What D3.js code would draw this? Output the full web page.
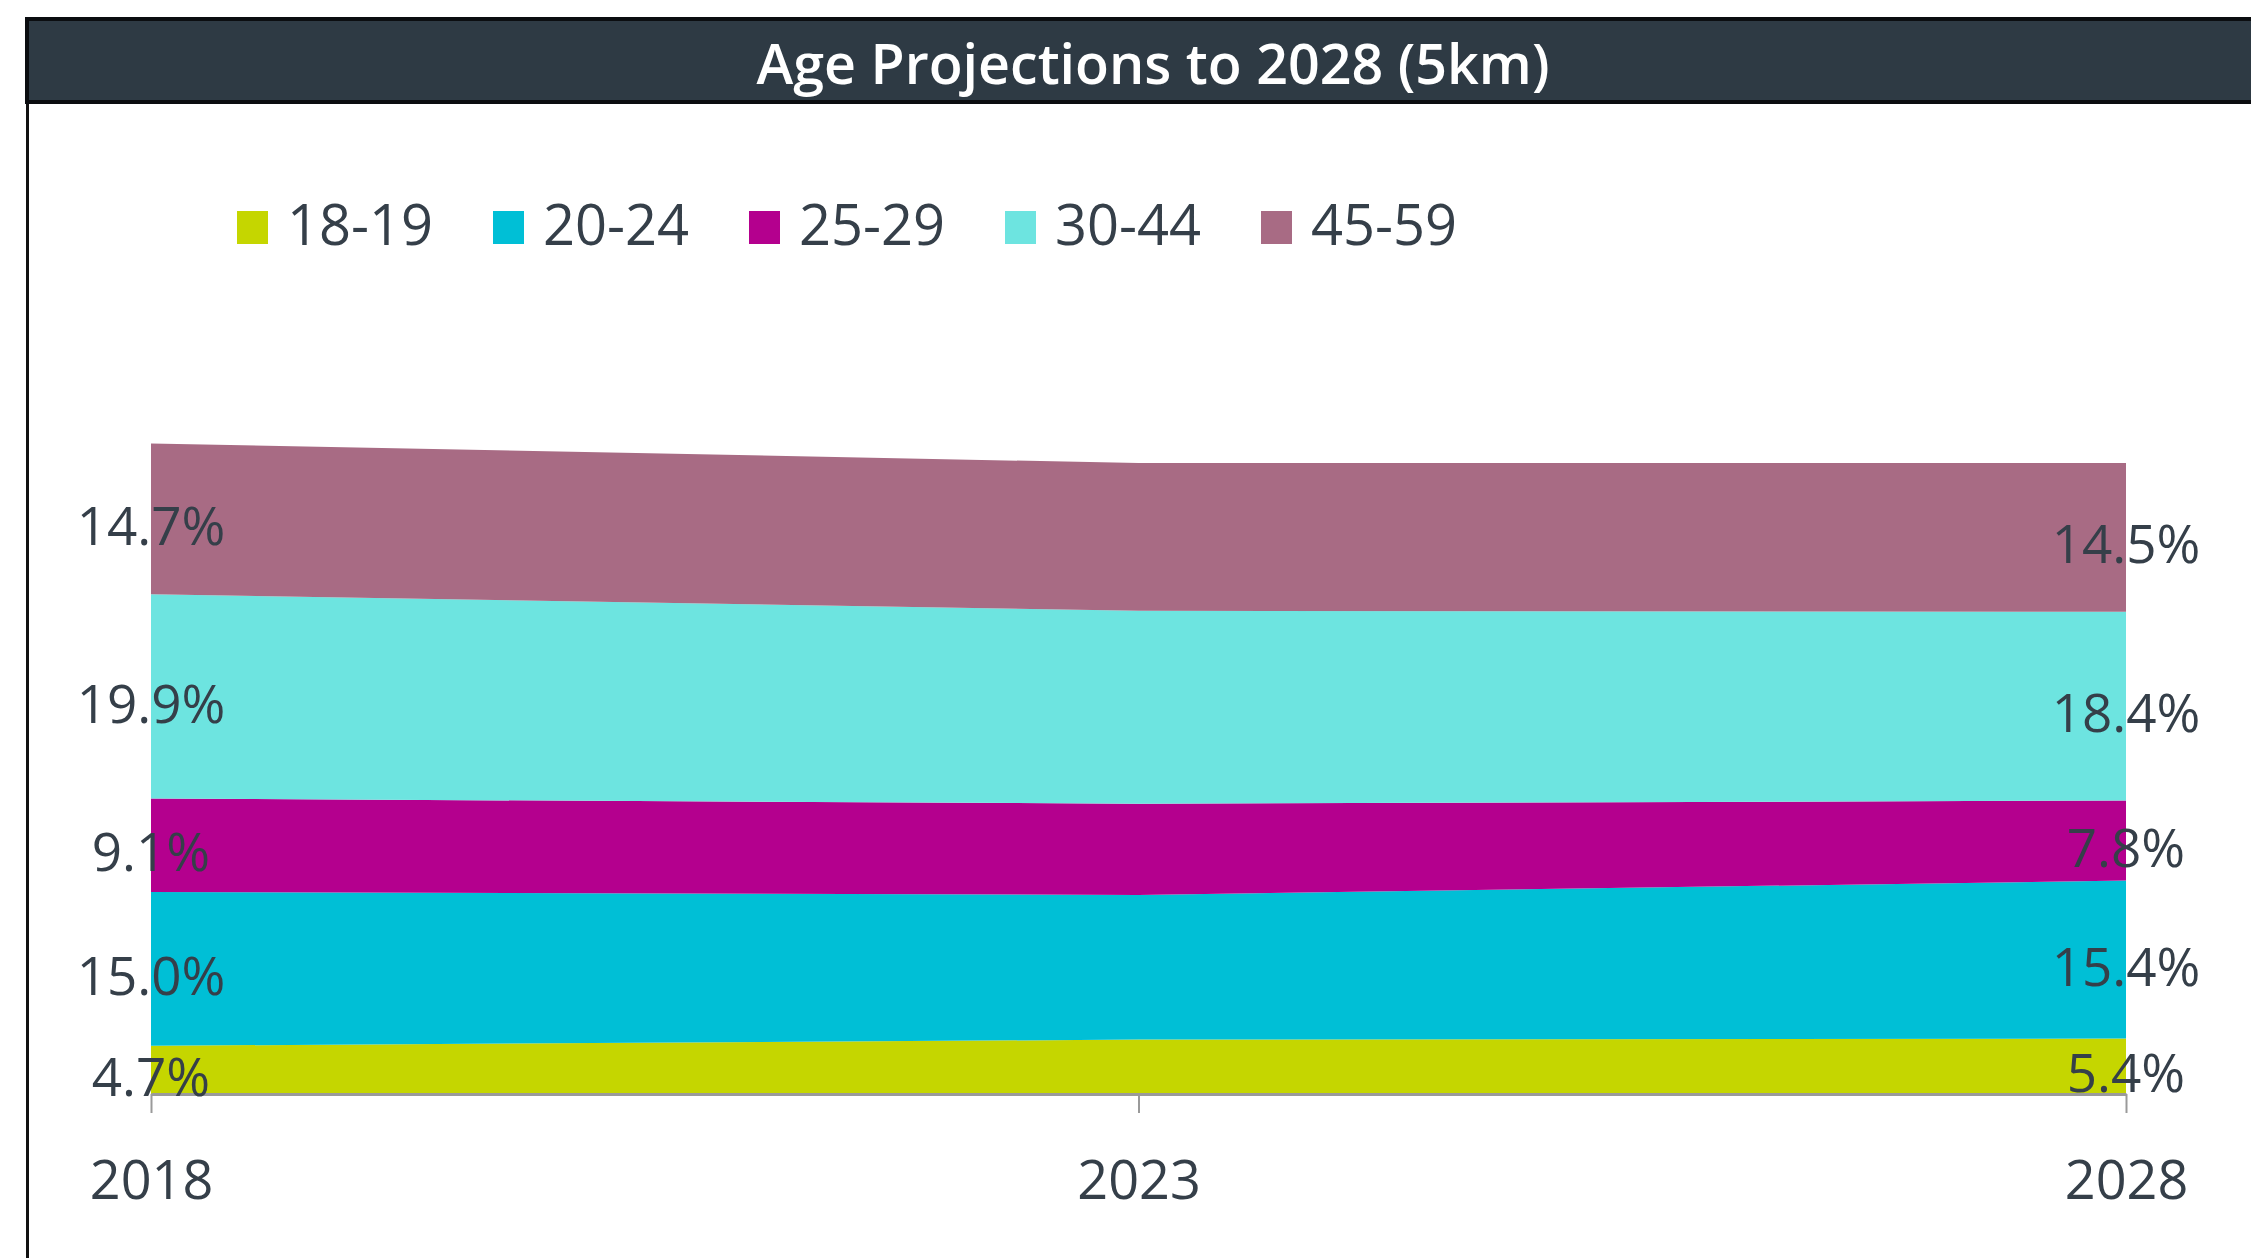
<!DOCTYPE html>
<html>
<head>
<meta charset="utf-8">
<script src="https://cdn.jsdelivr.net/npm/d3@7"></script>
<style>
  html, body { margin: 0; padding: 0; background: #ffffff; }
  svg { display: block; }
</style>
</head>
<body>
<svg id="chart" width="2251" height="1258"></svg>
<script>
// ---- Data ----
const years = ["2018", "2023", "2028"];
const ageGroups = ["18-19", "20-24", "25-29", "30-44", "45-59"];
const s18_19 = [4.7, 5.3, 5.4];
const s20_24 = [15.0, 14.1, 15.4];
const s25_29 = [9.1, 8.9, 7.8];
const s30_44 = [19.9, 18.8, 18.4];
const s45_59 = [14.7, 14.4, 14.5];
const titleText = "Age Projections to 2028 (5km)";
const colors = ["#c5d600", "#00bfd6", "#b4008e", "#6de4e0", "#a86b84"];

const seriesValues = [s18_19, s20_24, s25_29, s30_44, s45_59];
const rows = years.map((yr, i) => {
  const r = { year: yr };
  ageGroups.forEach((g, k) => { r[g] = seriesValues[k][i]; });
  return r;
});

const svg = d3.select("#chart");
const W = 2251, H = 1258;
const textColor = "#353f49";
const font = "'Open Sans', 'Noto Sans', sans-serif";

// ---- Frame + title bar ----
svg.append("line")
  .attr("x1", 27.5).attr("x2", 27.5).attr("y1", 100).attr("y2", H)
  .attr("stroke", "#111").attr("stroke-width", 3);
svg.append("rect")
  .attr("x", 27).attr("y", 19).attr("width", W).attr("height", 83)
  .attr("fill", "#2e3a44").attr("stroke", "#0b0d10").attr("stroke-width", 4);
const title = svg.append("text")
  .attr("x", 1153).attr("y", 84)
  .attr("text-anchor", "middle")
  .attr("fill", "#ffffff")
  .style("font-family", font)
  .style("font-weight", 600)
  .style("font-size", "56px")
  .text(titleText);
title.attr("textLength", 793).attr("lengthAdjust", "spacingAndGlyphs");

// ---- Scales ----
const x = d3.scalePoint().domain(years).range([151, 2126]);
const y = d3.scaleLinear().domain([0, 70]).range([1094, 1094 - 718.2]);

const stack = d3.stack().keys(ageGroups);
const layers = stack(rows);

const area = d3.area()
  .x(d => x(d.data.year))
  .y0(d => y(d[0]))
  .y1(d => y(d[1]))
  .curve(d3.curveLinear);

svg.append("g").selectAll("path")
  .data(layers)
  .join("path")
  .attr("d", area)
  .attr("fill", (d, i) => colors[i]);

// ---- X axis ----
const axis = d3.axisBottom(x).tickSize(19).tickPadding(48).tickSizeOuter(0);
const gx = svg.append("g")
  .attr("transform", `translate(0, ${y(0)})`)
  .call(axis);
gx.select(".domain").attr("stroke", "#9a9a9a").attr("stroke-width", 3);
gx.selectAll(".tick line").attr("stroke", "#9a9a9a").attr("stroke-width", 2);
gx.selectAll(".tick text")
  .attr("fill", textColor)
  .style("font-family", font)
  .style("font-size", "54px");

// ---- Value labels at first and last year ----
const labelIdx = [0, years.length - 1];
const labelData = [];
layers.forEach((layer, k) => {
  labelIdx.forEach(i => {
    const d = layer[i];
    labelData.push({ year: years[i], lo: d[0], hi: d[1], v: seriesValues[k][i] });
  });
});
svg.append("g").selectAll("text")
  .data(labelData)
  .join("text")
  .attr("x", d => x(d.year))
  .attr("y", d => (y(d.lo) + y(d.hi)) / 2 + 7)
  .attr("dy", "0.36em")
  .attr("text-anchor", "middle")
  .attr("fill", textColor)
  .style("font-family", font)
  .style("font-size", "53px")
  .text(d => d.v.toFixed(1) + "%");

// ---- Legend ----
const legend = svg.append("g").attr("transform", "translate(237, 0)");
const items = legend.selectAll("g")
  .data(ageGroups)
  .join("g")
  .attr("transform", (d, i) => `translate(${i * 256}, 0)`);
items.append("rect")
  .attr("x", 0).attr("y", 211).attr("width", 31).attr("height", 33)
  .attr("fill", (d, i) => colors[i]);
items.append("text")
  .attr("x", 50).attr("y", 245)
  .attr("fill", textColor)
  .style("font-family", font)
  .style("font-size", "56px")
  .text(d => d);
</script>
</body>
</html>
